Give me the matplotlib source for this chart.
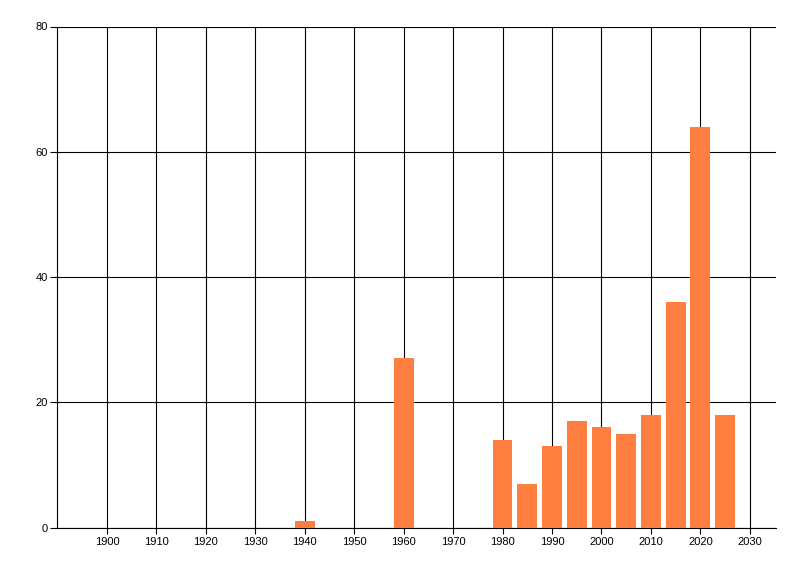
import matplotlib
matplotlib.use("Agg")
import matplotlib.pyplot as plt

years = [1940, 1960, 1980, 1985, 1990, 1995, 2000, 2005, 2010, 2015, 2020, 2025]
counts = [1, 27, 14, 7, 13, 17, 16, 15, 18, 36, 64, 18]
x_ticks = list(range(1900, 2031, 10))
y_ticks = [0, 20, 40, 60, 80]

plt.rcParams['font.family'] = ['Liberation Sans', 'DejaVu Sans']

fig = plt.figure(figsize=(8, 5.76), dpi=100)
ax = fig.add_axes([57.5 / 800, 1 - 527.5 / 576, (776 - 57.5) / 800, (527.5 - 26.5) / 576])

ax.bar(years, counts, width=4.0, color='#FF7F40', zorder=3)

ax.set_xlim(1890, 2035.3)
ax.set_ylim(0, 80)
ax.set_xticks(x_ticks)
ax.set_yticks(y_ticks)
ax.set_xticklabels([str(t) for t in x_ticks])
ax.set_yticklabels([str(t) for t in y_ticks])

ax.grid(True, color='black', linewidth=0.8, zorder=0)
ax.set_axisbelow(True)

for s in ['top', 'right']:
    ax.spines[s].set_visible(False)
for s in ['left', 'bottom']:
    ax.spines[s].set_color('black')
    ax.spines[s].set_linewidth(0.8)

ax.tick_params(axis='x', length=4.5, width=0.8, labelsize=8, pad=2, colors='black')
ax.tick_params(axis='y', length=5, width=0.8, labelsize=8, pad=2, colors='black')

fig.savefig('out.png', dpi=100)
